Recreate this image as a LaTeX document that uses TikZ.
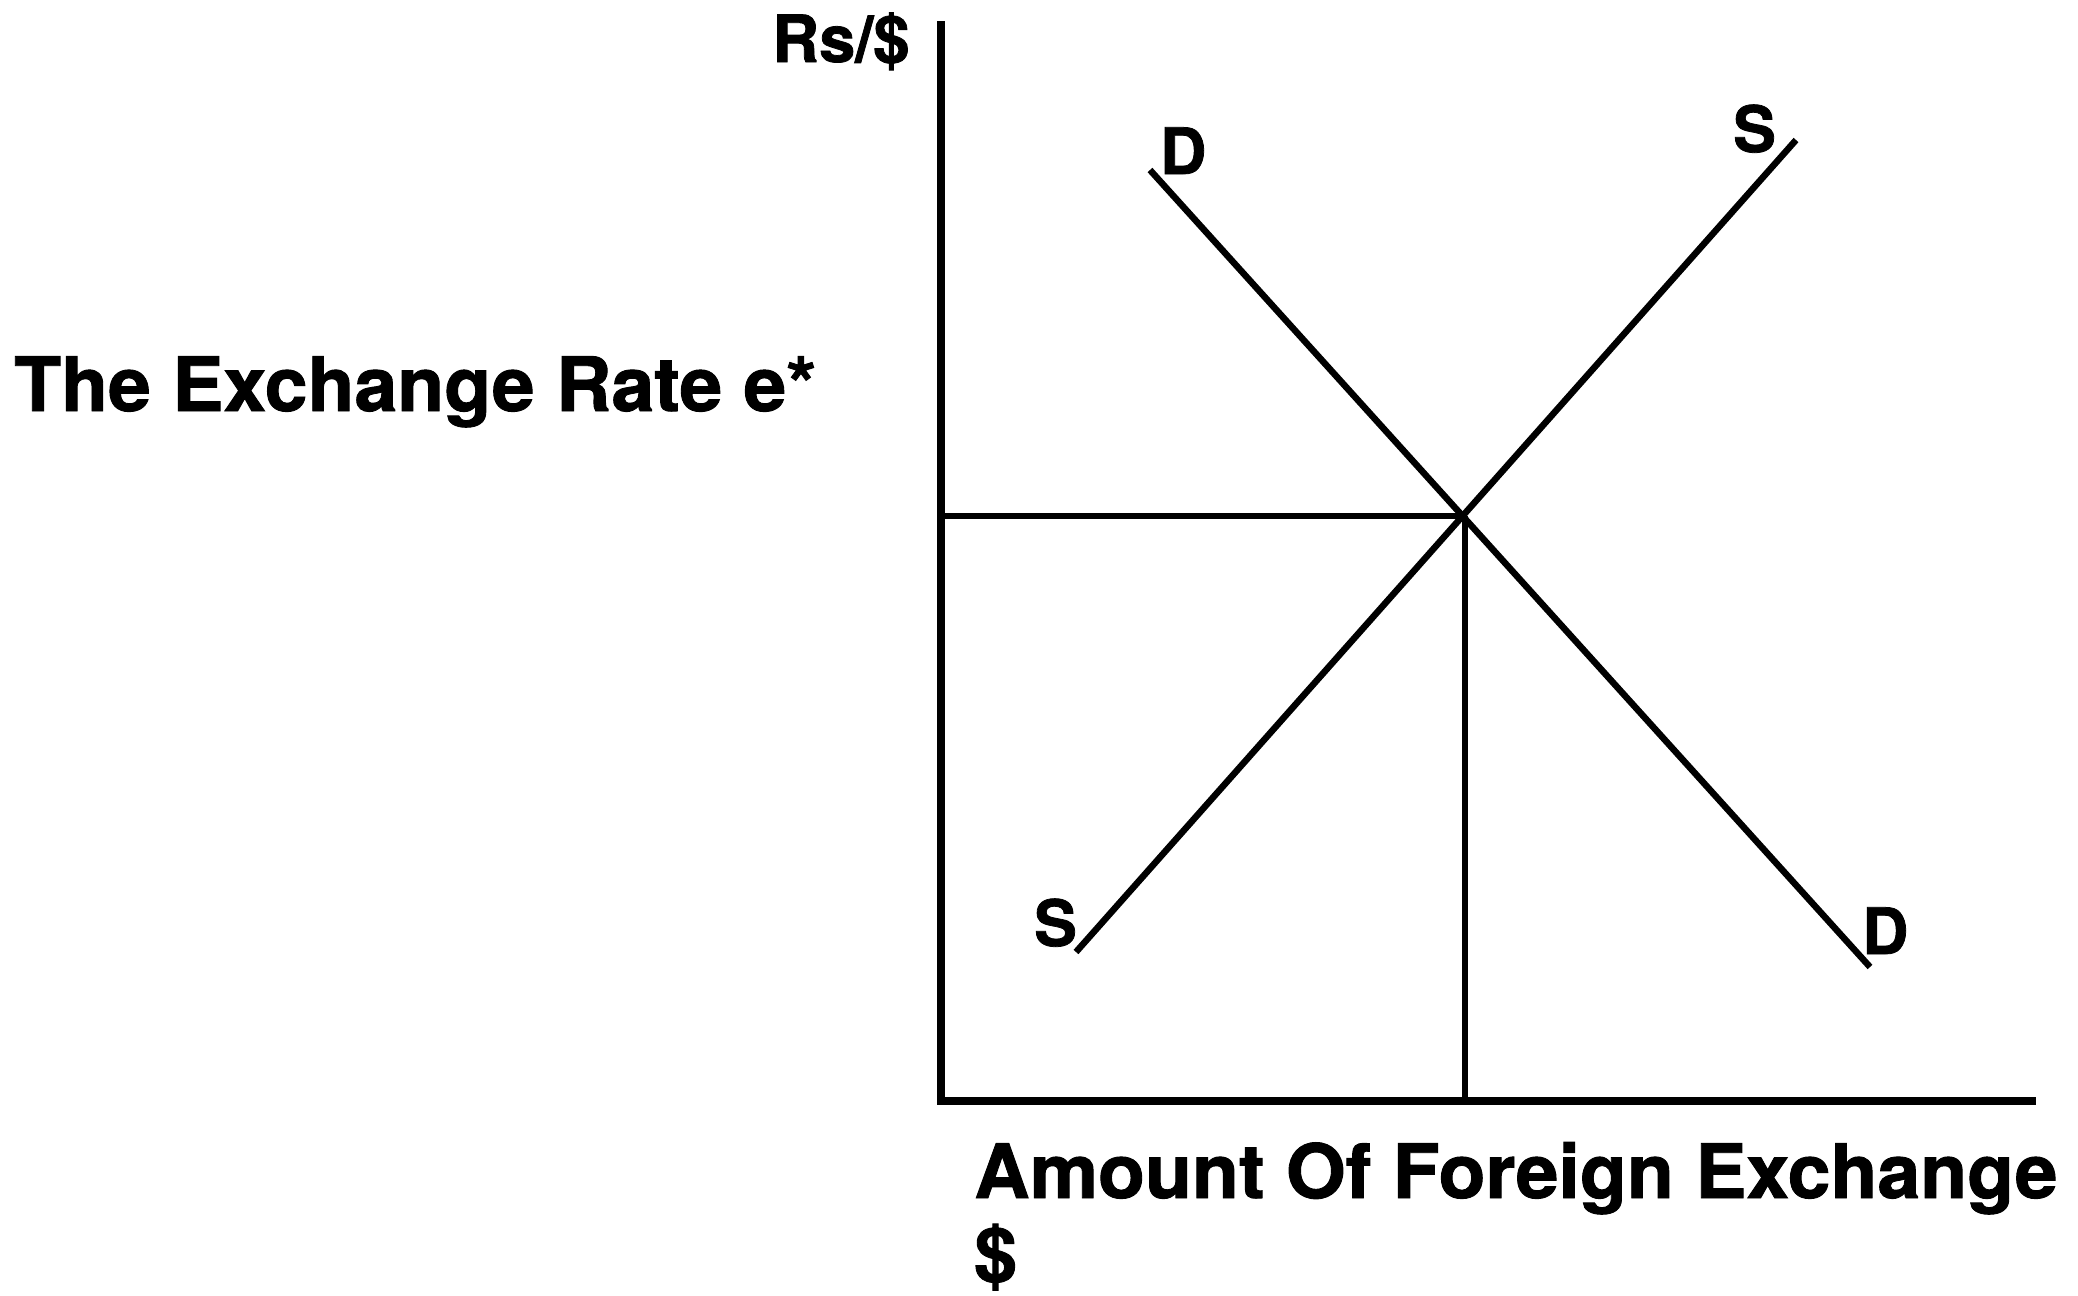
\documentclass[tikz,border=0pt]{standalone}
\usepackage{fontspec}
\setmainfont{TeX Gyre Heros}[BoldFeatures={FakeBold=1.2}]
\newfontfamily\wideheros{TeX Gyre Heros}[BoldFeatures={FakeBold=1.2,FakeStretch=1.025}]
\tikzset{
  axisline/.style={line width=7.5pt},
  curve/.style={line width=6.5pt},
  guide/.style={line width=6.5pt},
  bigtxt/.style={inner sep=0pt, anchor=base west, font=\wideheros\bfseries\fontsize{75}{90}\selectfont},
  axtxt/.style={inner sep=0pt, anchor=base west, font=\bfseries\fontsize{65}{78}\selectfont},
  lbl/.style={inner sep=0pt, anchor=base west, font=\bfseries\fontsize{64}{77}\selectfont}
}
\begin{document}
\begin{tikzpicture}[x=1pt,y=-1pt]
\useasboundingbox (0,0) rectangle (2078,1296);
% axes
\coordinate (ytop) at (941,21);
\coordinate (origin) at (941,1101);
\coordinate (xend) at (2036,1101);
\draw[axisline] (ytop) -- (origin) -- (xend);
% equilibrium
\coordinate (eq) at (1465,516);
\coordinate (eqy) at (941,516);
\coordinate (eqx) at (1465,1101);
\draw[guide] (eqy) -- (eq);
\draw[guide] (eq) -- (eqx);
% demand and supply
\coordinate (d1) at (1150,170);
\coordinate (d2) at (1870,967);
\coordinate (s1) at (1076,952);
\coordinate (s2) at (1796,140);
\draw[curve] (d1) -- (d2);
\draw[curve] (s1) -- (s2);
% labels
\node[axtxt] (rs) at (772,62) {Rs/\$};
\node[bigtxt] (ylab) at (14,411) {The Exchange Rate e*};
\node[bigtxt] (xlab) at (974,1198) {Amount Of Foreign Exchange};
\node[bigtxt] (xlab2) at (974,1281) {\$};
\node[lbl] (dtop) at (1160,174) {D};
\node[lbl] (stop) at (1733,152) {S};
\node[lbl] (sbot) at (1034,946) {S};
\node[lbl] (dbot) at (1862,954) {D};
\end{tikzpicture}
\end{document}
